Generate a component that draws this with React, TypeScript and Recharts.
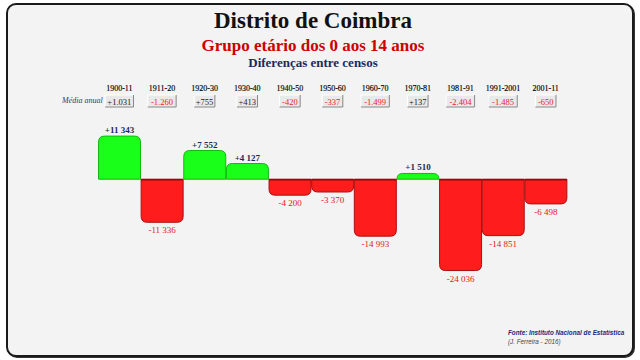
import React from "react";
import { BarChart, Bar, XAxis, YAxis } from "recharts";

// periods between censuses
const periods = ["1900-11", "1911-20", "1920-30", "1930-40", "1940-50", "1950-60", "1960-70", "1970-81", "1981-91", "1991-2001", "2001-11"];
// difference between censuses, 0-14 age group
const changes = [11343, -11336, 7552, 4127, -4200, -3370, -14993, 1510, -24036, -14851, -6498];
// annual average
const averages = [1031, -1260, 755, 413, -420, -337, -1499, 137, -2404, -1485, -650];

const serif = "'Liberation Serif', 'Times New Roman', serif";
const sans = "'Liberation Sans', Arial, sans-serif";

const data = periods.map((p, i) => ({ period: p, change: changes[i], avg: averages[i] }));

const group = (n: number, sep: string) =>
  Math.abs(n).toString().replace(/\B(?=(\d{3})+(?!\d))/g, sep);

const fmtChange = (n: number) => (n >= 0 ? "+" : "-") + group(n, " ");
const fmtAvg = (n: number) => (n >= 0 ? "+" : "-") + group(n, ".");

const HeaderTick = (props: any) => {
  const { x, payload, index } = props;
  const avg = averages[index];
  const txt = fmtAvg(avg);
  const w = txt.length * 3.9 + 5;
  const bx = x - w / 2;
  return (
    <g>
      <text x={x} y={91} textAnchor="middle" fontSize={8} fontFamily={serif} fill="#000" stroke="#000" strokeWidth={0.15}>
        {payload.value}
      </text>
      <rect x={bx} y={95} width={w} height={12} fill="#e9e9e9" />
      <path d={`M${bx},${107} L${bx},${95} L${bx + w},${95}`} stroke="#fff" fill="none" />
      <path d={`M${bx + w},${95} L${bx + w},${107} L${bx},${107}`} stroke="#888" fill="none" />
      <text x={x} y={104.5} textAnchor="middle" fontSize={8.5} fontFamily={serif} fill={avg >= 0 ? "#222" : "#f01818"}>
        {txt}
      </text>
    </g>
  );
};

const CensusBar = (props: any) => {
  const { x, y, width, height, payload } = props;
  const v = payload.change;
  const top = Math.min(y, y + height);
  const bottom = Math.max(y, y + height);
  const h = bottom - top;
  const r = Math.min(6, h);
  const w = width;
  let d;
  if (v >= 0) {
    d = `M${x},${bottom} L${x},${top + r} Q${x},${top} ${x + r},${top} L${x + w - r},${top} Q${x + w},${top} ${x + w},${top + r} L${x + w},${bottom} Z`;
  } else {
    d = `M${x},${top} L${x + w},${top} L${x + w},${bottom - r} Q${x + w},${bottom} ${x + w - r},${bottom} L${x + r},${bottom} Q${x},${bottom} ${x},${bottom - r} Z`;
  }
  const pos = v >= 0;
  return (
    <g>
      <path d={d} fill={pos ? "#1aff1a" : "#ff1c1c"} stroke={pos ? "#12b812" : "#a81010"} strokeWidth={1} />
      {!pos && <line x1={x} x2={x + w} y1={top + 0.5} y2={top + 0.5} stroke="#8a0c0c" strokeWidth={1.5} />}
      <text
        x={x + w / 2}
        y={pos ? top - 3 : bottom + 11}
        textAnchor="middle"
        fontSize={9}
        fontFamily={serif}
        fontWeight={pos ? "bold" : "normal"}
        fill={pos ? "#1b2a5e" : "#e81414"}
      >
        {fmtChange(v)}
      </text>
    </g>
  );
};

export default function App() {
  return (
    <div style={{ position: "absolute", left: 0, top: 0, width: 640, height: 360, background: "#fff", overflow: "hidden" }}>
      <div
        style={{
          position: "absolute",
          left: 6,
          top: 3,
          width: 628,
          height: 354,
          boxSizing: "border-box",
          border: "2px solid #1a1a1a",
          borderRadius: 10,
          background: "#f3f3f3",
          boxShadow: "1px 1px 0 #333",
        }}
      />
      <div style={{ position: "absolute", left: 0, width: 626, top: 8, textAlign: "center", fontFamily: serif, fontWeight: "bold", fontSize: 23, color: "#111" }}>
        Distrito de Coimbra
      </div>
      <div style={{ position: "absolute", left: 0, width: 626, top: 36, textAlign: "center", fontFamily: serif, fontWeight: "bold", fontSize: 17, color: "#cc0000" }}>
        Grupo etário dos 0 aos 14 anos
      </div>
      <div style={{ position: "absolute", left: 0, width: 626, top: 55, textAlign: "center", fontFamily: serif, fontWeight: "bold", fontSize: 13, color: "#1b2a5e" }}>
        Diferenças entre censos
      </div>
      <div style={{ position: "absolute", left: 62, top: 96, fontFamily: serif, fontStyle: "italic", fontSize: 8, color: "#2a3a7a" }}>
        Média anual
      </div>
      <div style={{ position: "absolute", left: 0, top: 0 }}>
        <BarChart
          width={640}
          height={360}
          data={data}
          margin={{ top: 96, right: 73, left: 98, bottom: 82 }}
          barCategoryGap={0.5}
        >
          <XAxis
            dataKey="period"
            orientation="top"
            height={30}
            axisLine={false}
            tickLine={false}
            interval={0}
            tick={<HeaderTick />}
          />
          <YAxis hide domain={[-26000, 14000]} />
          <Bar dataKey="change" isAnimationActive={false} shape={<CensusBar />} />
        </BarChart>
      </div>
      <div style={{ position: "absolute", left: 508, top: 329, fontFamily: sans, fontStyle: "italic", fontWeight: "bold", fontSize: 6.3, color: "#1b2a7e", whiteSpace: "nowrap" }}>
        Fonte: Instituto Nacional de Estatística
      </div>
      <div style={{ position: "absolute", left: 508, top: 338, fontFamily: sans, fontStyle: "italic", fontSize: 6.3, color: "#444", whiteSpace: "nowrap" }}>
        (J. Ferreira - 2016)
      </div>
    </div>
  );
}
